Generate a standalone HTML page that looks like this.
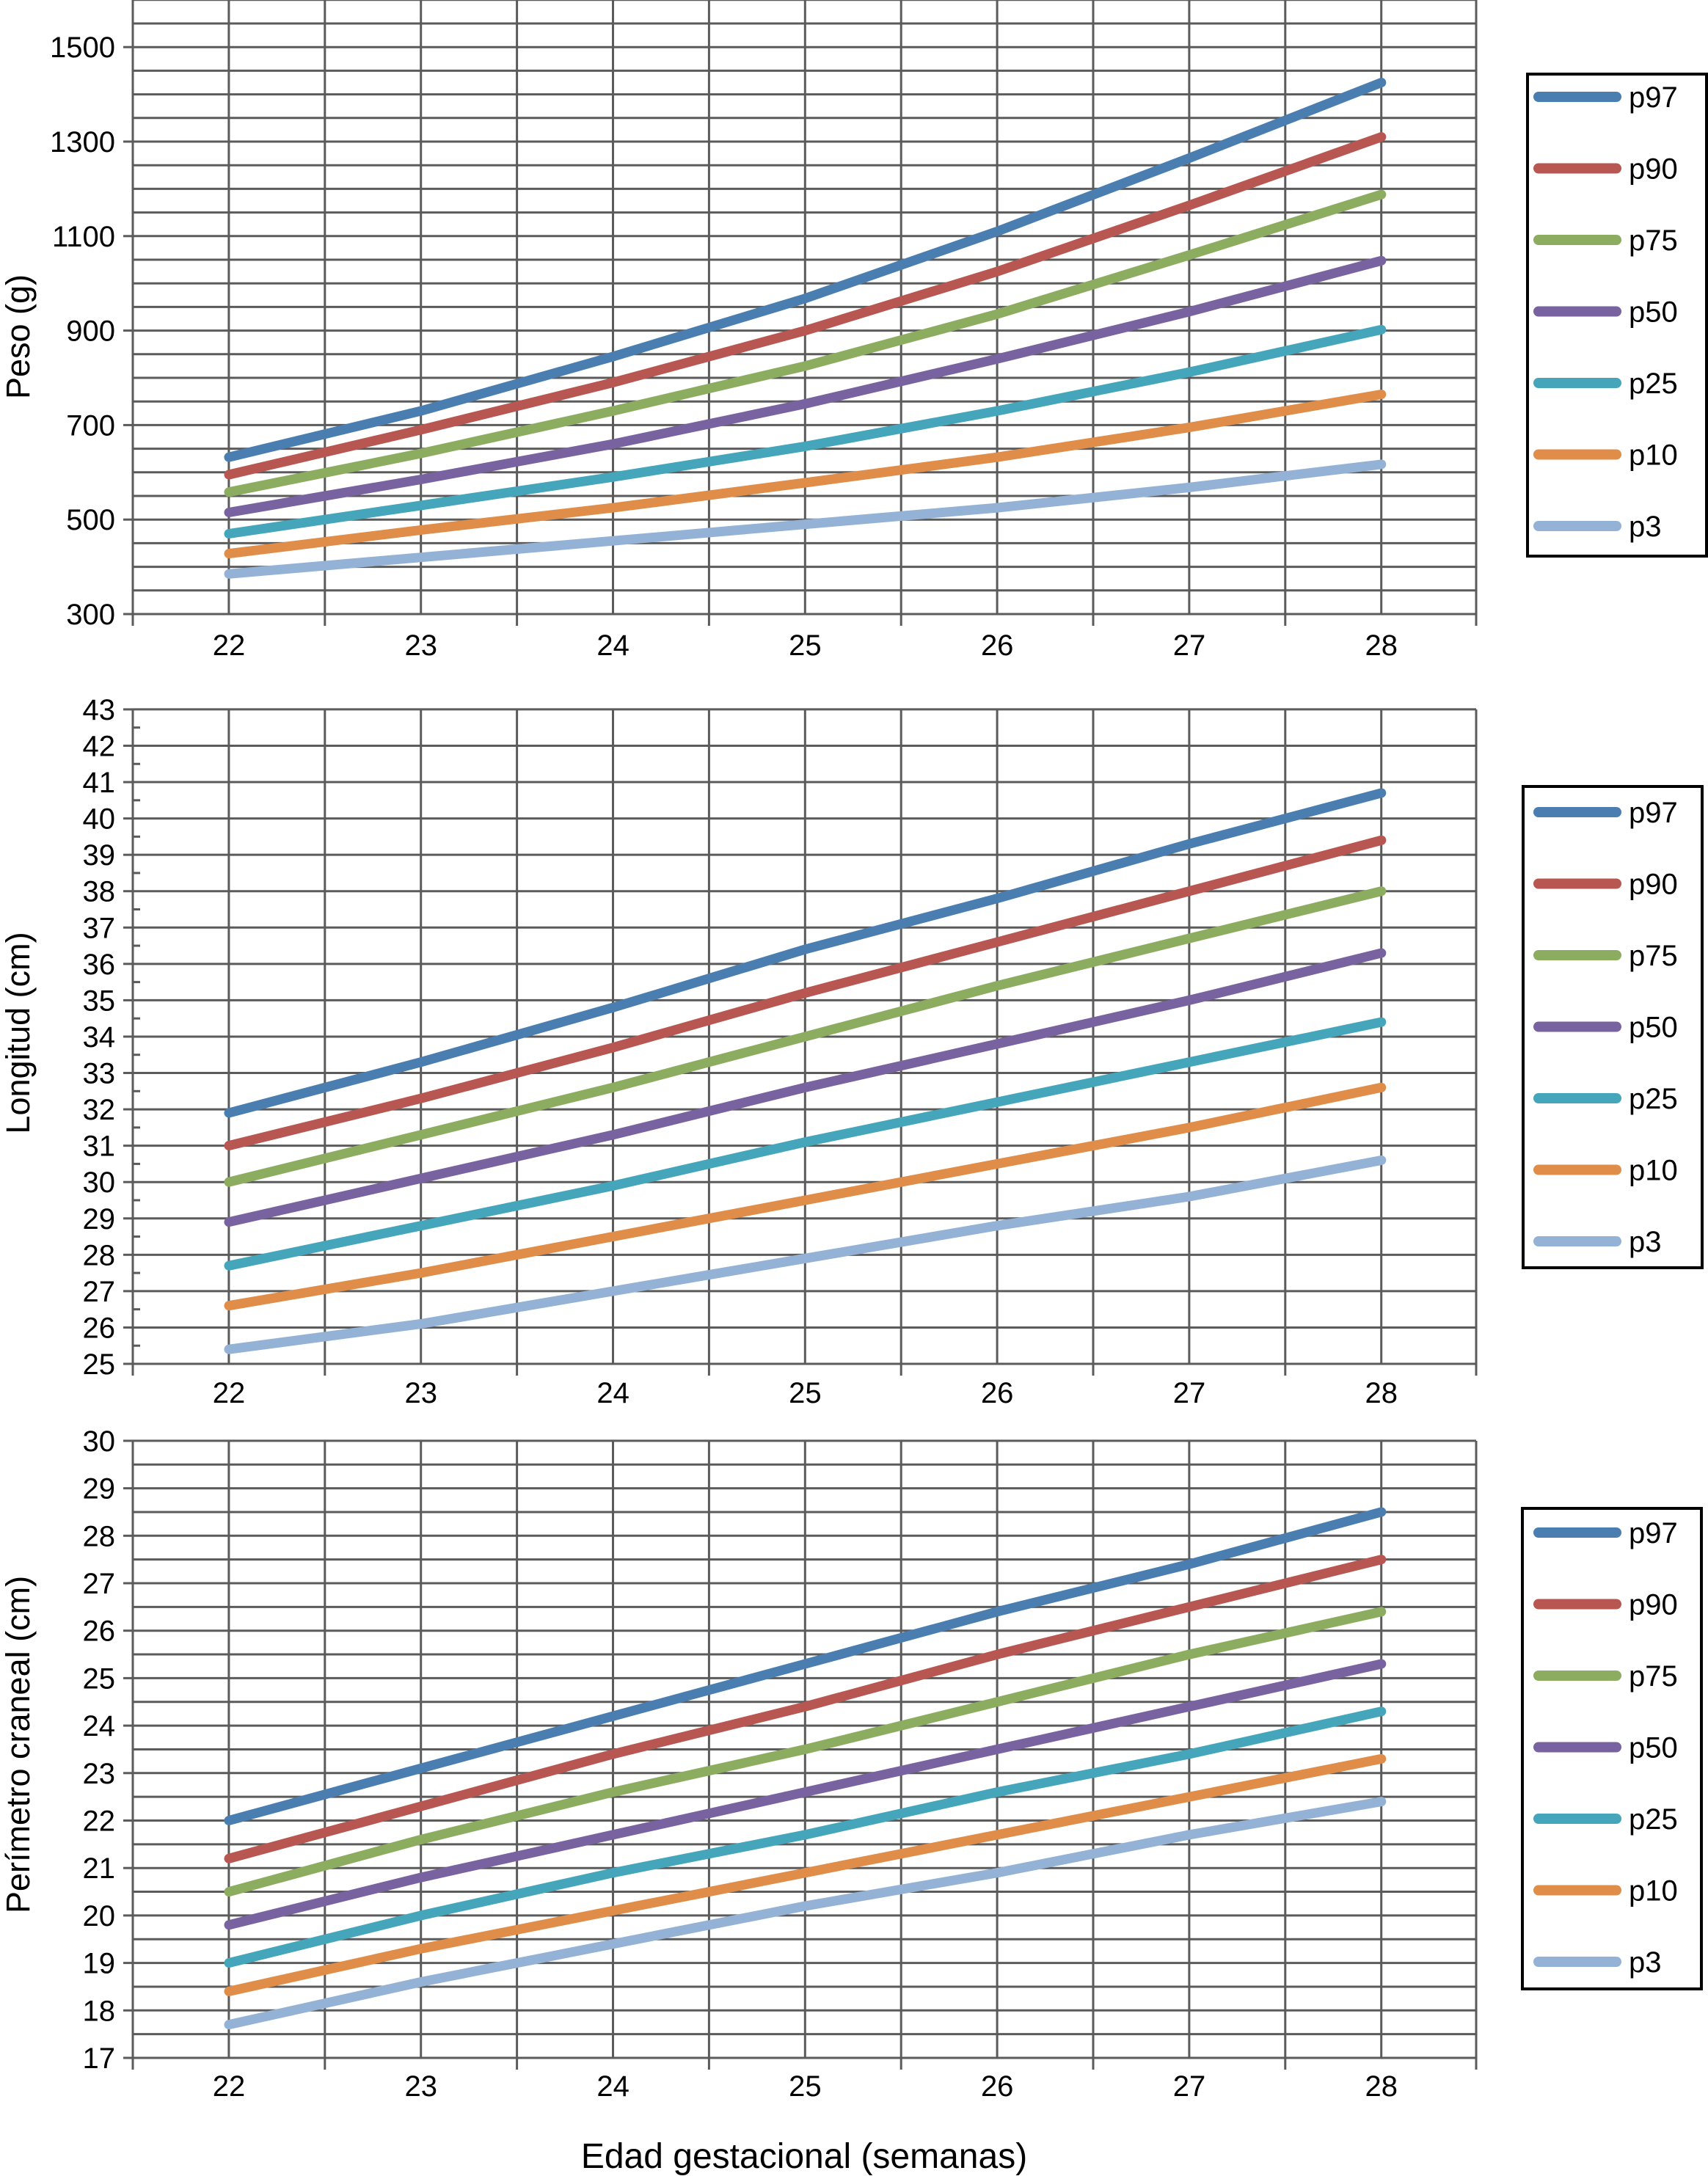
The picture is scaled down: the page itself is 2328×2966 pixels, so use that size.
<!DOCTYPE html>
<html><head><meta charset="utf-8">
<style>
html,body{margin:0;padding:0;background:#fff;}
svg{display:block;}
text{font-family:"Liberation Sans",Arial,sans-serif;fill:#000;}
</style></head>
<body>
<svg id="fig" width="2328" height="2966" viewBox="0 0 2328 2966" xmlns="http://www.w3.org/2000/svg"></svg>
<script>
const weeks = [22, 23, 24, 25, 26, 27, 28];
const seriesNames = ["p97", "p90", "p75", "p50", "p25", "p10", "p3"];
const seriesColors = ["#4a7eb0", "#b85651", "#8cac5f", "#7862a0", "#45a5ba", "#e08d4a", "#94b2d6"];

// Chart 1: Peso (g)
const pesoP97 = [632, 730, 845, 968, 1110, 1265, 1425];
const pesoP90 = [595, 690, 790, 900, 1025, 1165, 1310];
const pesoP75 = [558, 640, 730, 825, 935, 1060, 1188];
const pesoP50 = [515, 585, 660, 745, 840, 940, 1048];
const pesoP25 = [470, 530, 590, 655, 730, 812, 902];
const pesoP10 = [428, 478, 525, 578, 632, 695, 765];
const pesoP3 = [385, 420, 455, 490, 525, 568, 617];
const pesoTicks = [300, 500, 700, 900, 1100, 1300, 1500];

// Chart 2: Longitud (cm)
const longP97 = [31.9, 33.3, 34.8, 36.4, 37.8, 39.3, 40.7];
const longP90 = [31.0, 32.3, 33.7, 35.2, 36.6, 38.0, 39.4];
const longP75 = [30.0, 31.3, 32.6, 34.0, 35.4, 36.7, 38.0];
const longP50 = [28.9, 30.1, 31.3, 32.6, 33.8, 35.0, 36.3];
const longP25 = [27.7, 28.8, 29.9, 31.1, 32.2, 33.3, 34.4];
const longP10 = [26.6, 27.5, 28.5, 29.5, 30.5, 31.5, 32.6];
const longP3 = [25.4, 26.1, 27.0, 27.9, 28.8, 29.6, 30.6];
const longTicks = [25,26,27,28,29,30,31,32,33,34,35,36,37,38,39,40,41,42,43];

// Chart 3: Perímetro craneal (cm)
const pcP97 = [22.0, 23.1, 24.2, 25.3, 26.4, 27.4, 28.5];
const pcP90 = [21.2, 22.3, 23.4, 24.4, 25.5, 26.5, 27.5];
const pcP75 = [20.5, 21.6, 22.6, 23.5, 24.5, 25.5, 26.4];
const pcP50 = [19.8, 20.8, 21.7, 22.6, 23.5, 24.4, 25.3];
const pcP25 = [19.0, 20.0, 20.9, 21.7, 22.6, 23.4, 24.3];
const pcP10 = [18.4, 19.3, 20.1, 20.9, 21.7, 22.5, 23.3];
const pcP3 = [17.7, 18.6, 19.4, 20.2, 20.9, 21.7, 22.4];
const pcTicks = [17,18,19,20,21,22,23,24,25,26,27,28,29,30];

const NS = "http://www.w3.org/2000/svg";
const svg = document.getElementById("fig");
function mk(tag, attrs, parent){
  const e = document.createElementNS(NS, tag);
  for (const k in attrs) e.setAttribute(k, attrs[k]);
  (parent||svg).appendChild(e);
  return e;
}
const GRID = "#5b5b5b";
const AX_L = 181, AX_R = 2012, X22 = 312, WK = 261.8;
function xs(w){ return X22 + (w - 22) * WK; }

function drawChart(cfg){
  const g = mk("g", {});
  
  
  const ys = v => cfg.yBottom - (v - cfg.vMin) * cfg.pxPerUnit;
  const yTop = cfg.yTopPx;
  for (let v = cfg.vMin; ys(v) >= yTop - 0.5; v += cfg.gridStep) {
    const y = ys(v);
    const ln = mk("line", {x1: AX_L, x2: AX_R, y1: y, y2: y, stroke: GRID, "stroke-width": 3}, g);
    
    
  }
  if (cfg.minorTicks) {
    for (let v = cfg.vMin + 0.5; v < cfg.vMax; v += 1) {
      const y = ys(v);
      const t = mk("line", {x1: AX_L, x2: AX_L + 10, y1: y, y2: y, stroke: GRID, "stroke-width": 3}, g);
      
      
    }
  }
  for (let i = 0; i <= 14; i++) {
    const x = AX_L + i * (WK / 2);
    const xx = (i === 14) ? AX_R : x;
    const ext = (i % 2 === 0) ? 16 : 0;
    const ln = mk("line", {x1: xx, x2: xx, y1: yTop, y2: cfg.yBottom + ext, stroke: GRID, "stroke-width": 3}, g);
    
    
  }
  cfg.ticks.forEach(v => {
    const y = ys(v);
    const t = mk("line", {x1: AX_L - 13, x2: AX_L, y1: y, y2: y, stroke: GRID, "stroke-width": 3}, g);
    
    
    const tx = mk("text", {x: 157, y: y + 14, "text-anchor": "end", "font-size": 40}, g);
    tx.textContent = v;
    
    
  });
  weeks.forEach(w => {
    const tx = mk("text", {x: xs(w), y: cfg.xLabelY + 14, "text-anchor": "middle", "font-size": 40}, g);
    tx.textContent = w;
    
    
  });
  const yt = mk("text", {x: 0, y: 0, "text-anchor": "middle", "font-size": 45,
    transform: "translate(40," + cfg.titleY + ") rotate(-90)"}, g);
  yt.textContent = cfg.title;
  
  
  cfg.series.forEach((vals, i) => {
    const pts = vals.map((v, j) => xs(weeks[j]).toFixed(1) + "," + ys(v).toFixed(1)).join(" ");
    const pl = mk("polyline", {points: pts, fill: "none", stroke: seriesColors[i], "stroke-width": 13,
      "stroke-linecap": "round", "stroke-linejoin": "round"}, g);
    
    
  });
  const lg = mk("g", {}, g);
  
  
  const L = cfg.legend;
  const box = mk("rect", {x: L.x, y: L.y, width: L.w, height: L.h, fill: "#fff", stroke: "#000", "stroke-width": 4}, lg);
  
  
  seriesNames.forEach((n, i) => {
    const y = L.firstY + i * 97.5;
    const s = mk("line", {x1: 2097, x2: 2203, y1: y, y2: y, stroke: seriesColors[i], "stroke-width": 14, "stroke-linecap": "round"}, lg);
    
    
    const t = mk("text", {x: 2220, y: y + 14, "font-size": 40}, lg);
    t.textContent = n;
    
    
  });
}

drawChart({name: "weight-chart", title: "Peso (g)", vMin: 300, vMax: 1600, yBottom: 837, yTopPx: 0,
  pxPerUnit: 0.644, gridStep: 50, ticks: pesoTicks, minorTicks: false, xLabelY: 879, titleY: 459,
  series: [pesoP97, pesoP90, pesoP75, pesoP50, pesoP25, pesoP10, pesoP3],
  legend: {x: 2082, y: 101, w: 244, h: 657, firstY: 132}});

drawChart({name: "length-chart", title: "Longitud (cm)", vMin: 25, vMax: 43, yBottom: 1859, yTopPx: 967,
  pxPerUnit: 49.56, gridStep: 1, ticks: longTicks, minorTicks: true, xLabelY: 1898, titleY: 1408,
  series: [longP97, longP90, longP75, longP50, longP25, longP10, longP3],
  legend: {x: 2076, y: 1072, w: 244, h: 656, firstY: 1107}});

drawChart({name: "head-circumference-chart", title: "Perímetro craneal (cm)", vMin: 17, vMax: 30, yBottom: 2805, yTopPx: 1964,
  pxPerUnit: 64.7, gridStep: 0.5, ticks: pcTicks, minorTicks: false, xLabelY: 2843, titleY: 2378,
  series: [pcP97, pcP90, pcP75, pcP50, pcP25, pcP10, pcP3],
  legend: {x: 2075, y: 2056, w: 244, h: 655, firstY: 2089}});

const xt = mk("text", {x: 1096, y: 2955, "text-anchor": "middle", "font-size": 48});
xt.textContent = "Edad gestacional (semanas)";


</script>
</body></html>
